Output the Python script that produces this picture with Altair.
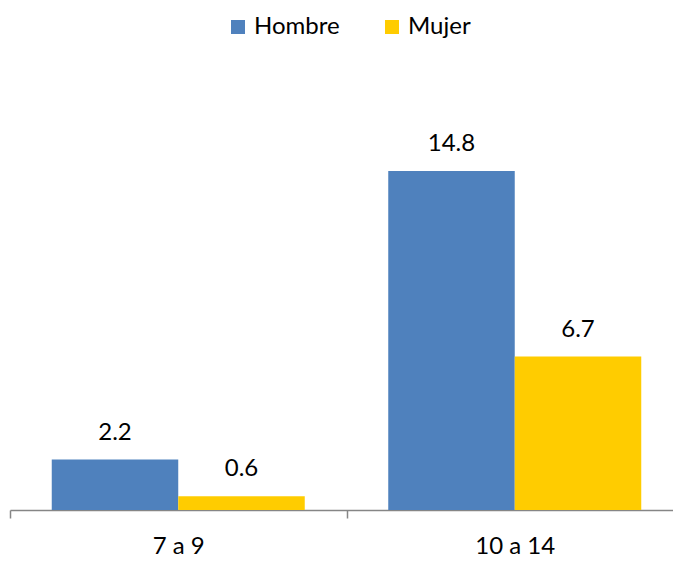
import altair as alt
import pandas as pd

grupos = ["7 a 9", "7 a 9", "10 a 14", "10 a 14"]
sexo = ["Hombre", "Mujer", "Hombre", "Mujer"]
valores = [2.2, 0.6, 14.8, 6.7]

df = pd.DataFrame({"grupo": grupos, "sexo": sexo, "valor": valores})

FONT = "Lato"
FS = 24
x = alt.X("grupo:N", sort=["7 a 9", "10 a 14"], title=None,
          scale=alt.Scale(paddingInner=0, paddingOuter=0, range=[0, 673]),
          axis=alt.Axis(labelAngle=0, domainColor="#868686", tickColor="#868686",
                        tickSize=8, tickBand="extent", labelPadding=35,
                        labelBaseline="alphabetic",
                        labelFontSize=FS, labelFont=FONT, labelColor="#000000",
                        domainWidth=1.5, tickWidth=1.5))
xo = alt.XOffset("sexo:N", sort=["Hombre", "Mujer"],
                 scale=alt.Scale(paddingInner=0, paddingOuter=0.33))
y = alt.Y("valor:Q", scale=alt.Scale(domain=[0, 20], nice=False), axis=None)
color = alt.Color("sexo:N", sort=["Hombre", "Mujer"],
                  scale=alt.Scale(domain=["Hombre", "Mujer"], range=["#4F81BD", "#FFCC00"]),
                  legend=alt.Legend(title=None, orient="none", direction="horizontal",
                                    legendX=216, legendY=-37, symbolType="square",
                                    symbolSize=196, symbolStrokeWidth=0, symbolOpacity=1,
                                    labelFontSize=FS, labelFont=FONT, labelColor="#000000",
                                    labelOffset=4, columnPadding=40))

bars = alt.Chart(df).mark_bar(size=126.5).encode(x=x, xOffset=xo, y=y, color=color)
text = alt.Chart(df).mark_text(baseline="alphabetic", dy=-20, fontSize=FS, font=FONT,
                               color="#000000").encode(
    x=x, xOffset=xo, y=y, text=alt.Text("valor:Q", format=".1f"))

chart = alt.layer(bars, text).properties(
    width=663, height=458,
    autosize=alt.AutoSizeParams(type="none"),
    padding={"left": 2, "top": 44, "right": 0, "bottom": 50},
).configure_view(stroke=None)

chart.save("out.html", embed_options={"renderer": "svg", "actions": False})
